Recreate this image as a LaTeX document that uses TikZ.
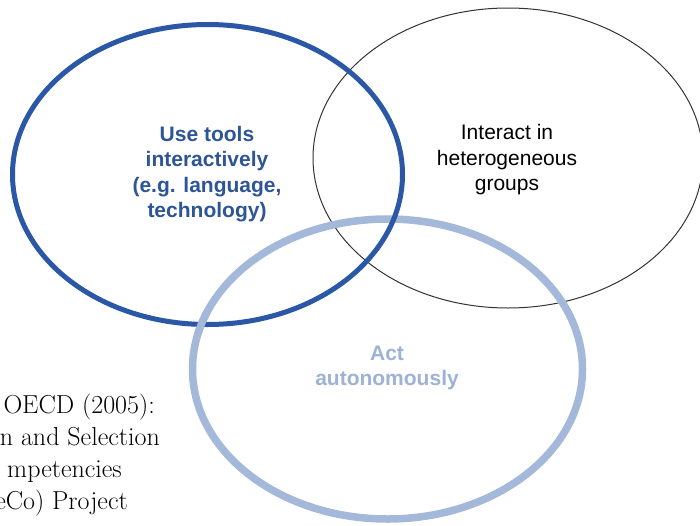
\documentclass[tikz,border=0pt]{standalone}
\usepackage{fontspec}
\newfontfamily\arialfont{Liberation Sans}
\usetikzlibrary{positioning}
\definecolor{toolblue}{HTML}{2A57A6}
\definecolor{tooltext}{HTML}{2D5598}
\definecolor{selfblue}{HTML}{A4B8DA}
\definecolor{selftext}{HTML}{9EB2D5}

\begin{document}
\begin{tikzpicture}[x=1pt,y=-1pt,
    ring/.style={x radius=195,y radius=150},
    label/.style={align=center,font=\arialfont\fontsize{21}{25.5}\selectfont},
    src/.style={anchor=base east,inner sep=0pt,font=\fontsize{26}{32}\selectfont}]
    \useasboundingbox (0,0) rectangle (700,525);
    \fill[white] (0,0) rectangle (700,525);
    % the three rings, thin one first
    \draw[line width=1pt,color=black!80] (508,158) ellipse [ring];
    \draw[line width=7.5pt,color=selfblue] (387.5,369) ellipse [ring];
    \draw[line width=5pt,color=toolblue] (207.5,174.5) ellipse [ring];
    \begin{scope} % light ring back on top at the lower crossing
    \clip (200,322) circle (14);
    \draw[line width=7.5pt,color=selfblue] (387.5,369) ellipse [ring];
    \end{scope}
    \node[label,color=tooltext,font=\arialfont\bfseries\fontsize{21}{25.5}\selectfont] (tools) at (207,174)
        {Use tools\\interactively\\(e.g. language,\\technology)};
    \node[label] (groups) at (507,160) {Interact in\\heterogeneous\\groups};
    \node[label,color=selftext,font=\arialfont\bfseries\fontsize{21}{25.5}\selectfont] (auto) at (387,368)
        {Act\\autonomously};
    % source text, cut at the left edge
    \node[src] (src1) at (155,413) {OECD (2005):};
    \node[src] (src2) at (160,445) {n and Selection};
    \node[src] (src3) at (122,477) {mpetencies};
    \node[src] (src4) at (128,509) {eCo) Project};
\end{tikzpicture}
\end{document}
